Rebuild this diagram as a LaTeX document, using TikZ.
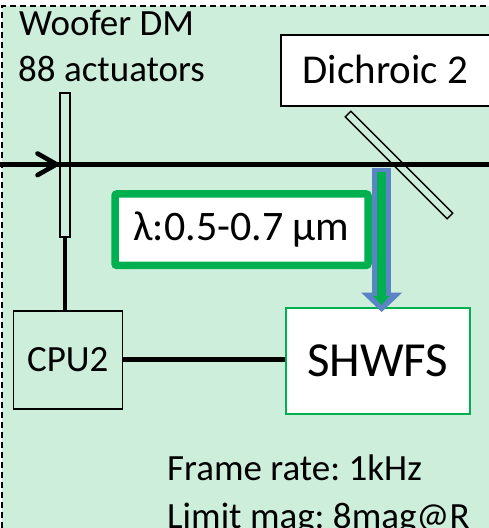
\documentclass[tikz,border=0pt]{standalone}
\usepackage{fontspec}
\setmainfont{Carlito}
\usetikzlibrary{arrows.meta}
\definecolor{bg}{HTML}{CDEEDB}
\definecolor{grn}{HTML}{00B050}
\definecolor{blu}{HTML}{5A84C4}
\frenchspacing
\begin{document}
\begin{tikzpicture}[x=1pt,y=-1pt,
  txt/.style={inner sep=0pt, font=\fontsize{37}{44}\selectfont},
  plate/.style={draw=black, line width=1.4pt, inner sep=0pt},
  blackbox/.style={draw=black, line width=1.6pt, inner sep=0pt},
  wire/.style={draw=black, line width=4.6pt}]
\useasboundingbox (0,0) rectangle (489,528);
\fill[bg] (2,6) rectangle (489,528);
\draw[line width=2.6pt, dash pattern=on 6pt off 4pt] (2,528) -- (2,6) -- (489,6);

% labels
\node[txt, anchor=base west] (wl1) at (19,35) {Woofer DM};
\node[txt, anchor=base west] (wl2) at (18,81) {88 actuators};

% beam
\coordinate (bL) at (0,164.3);
\coordinate (bR) at (489,164.3);
\draw[wire] (bL) -- (bR);
\coordinate (c1) at (37.5,153.5);
\coordinate (c2) at (56.5,164.3);
\coordinate (c3) at (37.5,175.1);
\draw[line width=4.6pt, line cap=round, line join=miter] (c1) -- (c2) -- (c3);

% woofer DM plate
\node[plate, minimum width=10pt, minimum height=144pt] (woofer) at (65,165) {};

% dichroic box and plate
\node[blackbox, fill=white, minimum width=215pt, minimum height=71pt, anchor=north west] (dbox) at (280,34) {};
\node[txt, font=\fontsize{41}{48}\selectfont] (dtext) at (385.5,69) {Dichroic 2};
\node[plate, minimum width=144pt, minimum height=8pt, rotate=-45] (dich) at (399,165) {};

% lambda box
\node[draw=grn, line width=7.5pt, fill=white, rounded corners=2pt, inner sep=0pt,
      minimum width=253pt, minimum height=71.5pt, font=\fontsize{42}{48}\selectfont] (lam) at (241.5,229.7) {λ:0.5-0.7 μm};

% CPU2 and SHWFS
\node[blackbox, minimum width=109pt, minimum height=98pt, font=\fontsize{37}{44}\selectfont] (cpu) at (67.8,359.7) {CPU2};
\node[draw=grn, line width=1.5pt, fill=white, inner sep=0pt, minimum width=184pt, minimum height=106pt,
      font=\fontsize{49}{56}\selectfont] (shwfs) at (377.85,361) {SHWFS};

\draw[wire] (woofer.south) -- (woofer.south |- cpu.north);
\draw[wire] (cpu.east) -- (cpu.east -| shwfs.west);

% split arrow
\coordinate (split) at (381.7,167.5);
\coordinate (tip) at (381.7,312);
\draw[blu, line width=19.5pt, -{Triangle[width=40pt,length=19.5pt]}] (split) -- (tip);
\coordinate (g1) at (381.5,172);
\coordinate (g2) at (381.5,305);
\draw[grn, line width=8.4pt, -{Triangle[width=16pt,length=9pt]}] (g1) -- (g2);

% bottom text
\node[txt, anchor=base west] (fr) at (167,480) {Frame rate: 1kHz};
\node[txt, anchor=base west] (lm) at (167,528) {Limit mag: 8mag@R};
\end{tikzpicture}
\end{document}
